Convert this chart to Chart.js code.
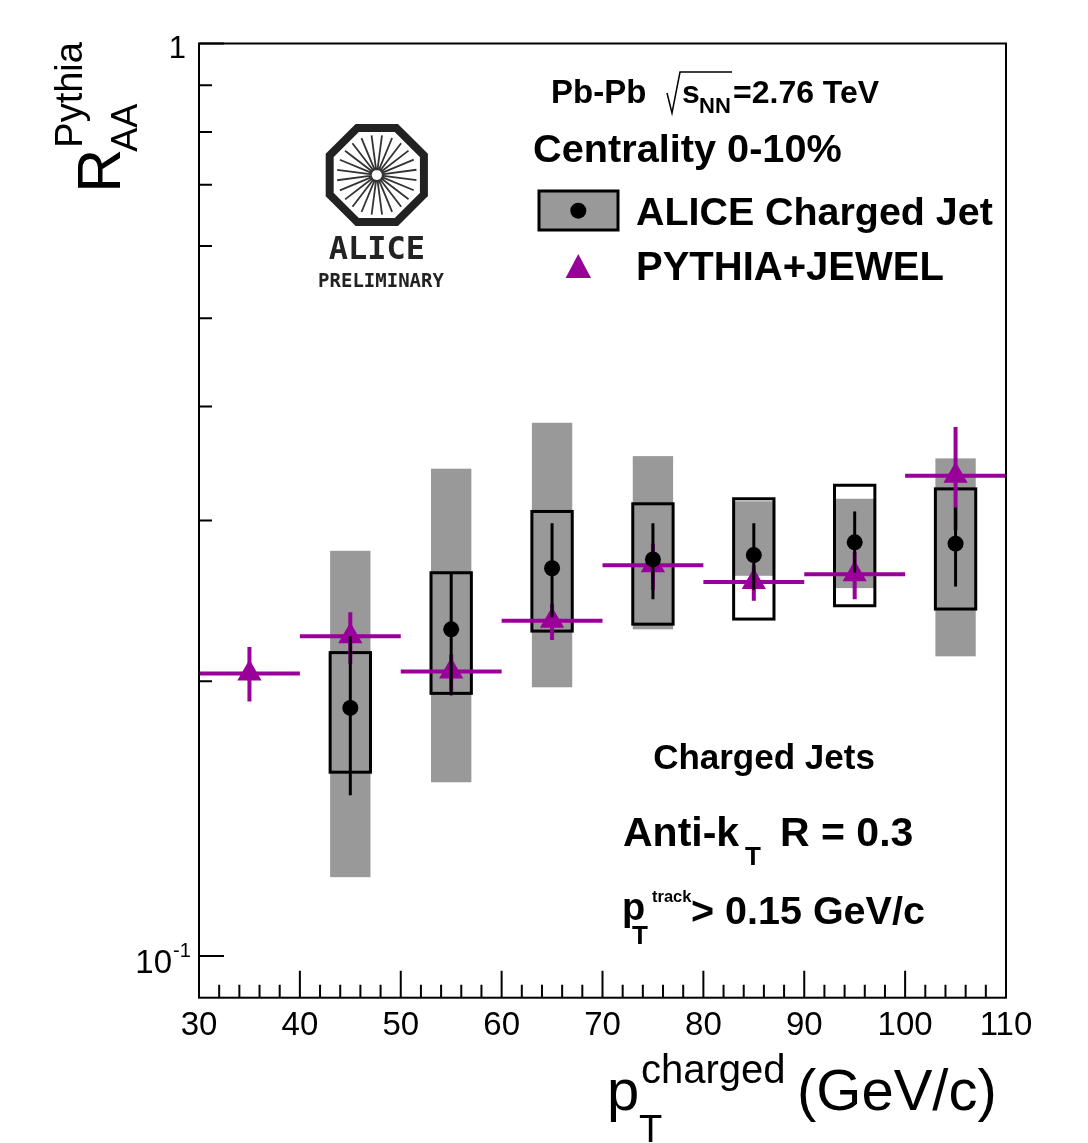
<!DOCTYPE html>
<html>
<head>
<meta charset="utf-8">
<script src="https://cdn.jsdelivr.net/npm/chart.js@4.4.1/dist/chart.umd.min.js"></script>
<style>
  html, body { margin: 0; padding: 0; background: #fff; }
  #raaChart { display: block; }
</style>
</head>
<body>
<canvas id="raaChart" width="1088" height="1143"></canvas>
<script>
// ALICE charged jet R_AA (bin centres in GeV/c)
const aliceX = [45, 55, 65, 75, 85, 95, 105];
const aliceY = [0.187, 0.228, 0.266, 0.272, 0.275, 0.284, 0.283];
const aliceStatLo = [0.150, 0.193, 0.235, 0.246, 0.252, 0.263, 0.254];
const aliceStatHi = [0.224, 0.263, 0.298, 0.298, 0.298, 0.307, 0.310];
// shape uncertainty (open boxes)
const aliceShapeLo = [0.159, 0.194, 0.227, 0.231, 0.234, 0.242, 0.240];
const aliceShapeHi = [0.215, 0.263, 0.307, 0.313, 0.317, 0.328, 0.325];
// correlated uncertainty (grey boxes)
const aliceCorrLo = [0.122, 0.155, 0.197, 0.228, 0.261, 0.253, 0.213];
const aliceCorrHi = [0.278, 0.342, 0.384, 0.353, 0.315, 0.317, 0.351];
const boxHalfWidth = 2;

// PYTHIA+JEWEL
const pythiaX = [35, 45, 55, 65, 75, 85, 95, 105];
const pythiaY = [0.204, 0.224, 0.205, 0.233, 0.268, 0.257, 0.262, 0.336];
const pythiaLo = [0.190, 0.209, 0.195, 0.222, 0.252, 0.245, 0.246, 0.293];
const pythiaHi = [0.218, 0.238, 0.214, 0.243, 0.283, 0.268, 0.277, 0.380];
const pythiaBinHalf = 5;

// axis ticks
const xMajorTicks = [30, 40, 50, 60, 70, 80, 90, 100, 110];
const xMinorTicks = [32, 34, 36, 38, 42, 44, 46, 48, 52, 54, 56, 58, 62, 64, 66, 68,
                     72, 74, 76, 78, 82, 84, 86, 88, 92, 94, 96, 98, 102, 104, 106, 108];
const yMajorTicks = [0.1, 1];
const yMinorTicks = [0.2, 0.3, 0.4, 0.5, 0.6, 0.7, 0.8, 0.9];

const PURPLE = '#990099';
const GREY = '#999999';
const FONT = '"Liberation Sans", Arial, Helvetica, sans-serif';

function txt(ctx, s, x, y, size, bold, align) {
    ctx.font = (bold ? 'bold ' : '') + size + 'px ' + FONT;
    ctx.textAlign = align || 'left';
    ctx.textBaseline = 'alphabetic';
    ctx.fillText(s, x, y);
    return ctx.measureText(s).width;
}

const rootStyle = {
    id: 'rootStyle',
    beforeDatasetsDraw(chart) {
        const ctx = chart.ctx;
        const xs = chart.scales.x, ys = chart.scales.y;
        ctx.save();
        // grey correlated boxes
        ctx.fillStyle = GREY;
        aliceX.forEach((x, i) => {
            const l = xs.getPixelForValue(x - boxHalfWidth), r = xs.getPixelForValue(x + boxHalfWidth);
            const t = ys.getPixelForValue(aliceCorrHi[i]), b = ys.getPixelForValue(aliceCorrLo[i]);
            ctx.fillRect(l, t, r - l, b - t);
        });
        // open shape boxes
        ctx.strokeStyle = '#000';
        ctx.lineWidth = 3;
        aliceX.forEach((x, i) => {
            const l = xs.getPixelForValue(x - boxHalfWidth), r = xs.getPixelForValue(x + boxHalfWidth);
            const t = ys.getPixelForValue(aliceShapeHi[i]), b = ys.getPixelForValue(aliceShapeLo[i]);
            ctx.strokeRect(l, t, r - l, b - t);
        });
        ctx.restore();
    },
    beforeDatasetDraw(chart, args) {
        const ctx = chart.ctx;
        const xs = chart.scales.x, ys = chart.scales.y;
        ctx.save();
        if (args.index === 1) {
            ctx.strokeStyle = PURPLE;
            ctx.lineWidth = 4;
            pythiaX.forEach((x, i) => {
                const px = xs.getPixelForValue(x), py = ys.getPixelForValue(pythiaY[i]);
                ctx.beginPath();
                ctx.moveTo(xs.getPixelForValue(x - pythiaBinHalf), py);
                ctx.lineTo(xs.getPixelForValue(x + pythiaBinHalf), py);
                ctx.moveTo(px, ys.getPixelForValue(pythiaHi[i]));
                ctx.lineTo(px, ys.getPixelForValue(pythiaLo[i]));
                ctx.stroke();
            });
        } else if (args.index === 0) {
            ctx.strokeStyle = '#000';
            ctx.lineWidth = 3;
            aliceX.forEach((x, i) => {
                const px = xs.getPixelForValue(x);
                ctx.beginPath();
                ctx.moveTo(px, ys.getPixelForValue(aliceStatHi[i]));
                ctx.lineTo(px, ys.getPixelForValue(aliceStatLo[i]));
                ctx.stroke();
            });
        }
        ctx.restore();
    },
    afterDraw(chart) {
        const ctx = chart.ctx;
        const xs = chart.scales.x, ys = chart.scales.y;
        const a = chart.chartArea;
        ctx.save();
        ctx.fillStyle = '#000';
        ctx.strokeStyle = '#000';

        // frame
        ctx.lineWidth = 2;
        ctx.strokeRect(a.left, a.top, a.right - a.left, a.bottom - a.top);

        // ticks (drawn inwards, ROOT style)
        ctx.beginPath();
        xMajorTicks.forEach(v => {
            const p = xs.getPixelForValue(v);
            ctx.moveTo(p, a.bottom); ctx.lineTo(p, a.bottom - 27);
        });
        xMinorTicks.forEach(v => {
            const p = xs.getPixelForValue(v);
            ctx.moveTo(p, a.bottom); ctx.lineTo(p, a.bottom - 13);
        });
        yMajorTicks.forEach(v => {
            const p = ys.getPixelForValue(v);
            ctx.moveTo(a.left, p); ctx.lineTo(a.left + 25, p);
        });
        yMinorTicks.forEach(v => {
            const p = ys.getPixelForValue(v);
            ctx.moveTo(a.left, p); ctx.lineTo(a.left + 13, p);
        });
        ctx.stroke();

        // y tick labels
        const y1 = ys.getPixelForValue(1), y01 = ys.getPixelForValue(0.1);
        txt(ctx, '1', 186, y1 + 14, 31, false, 'right');
        txt(ctx, '10', 172, y01 + 17, 33, false, 'right');
        txt(ctx, '-1', 173, y01 + 1, 20, false, 'left');

        // y axis title: R^{Pythia}_{AA}
        ctx.save();
        ctx.translate(120, 192.7);
        ctx.rotate(-Math.PI / 2);
        txt(ctx, 'R', 0, 0, 61, false);
        txt(ctx, 'AA', 41, 17, 36, false);
        txt(ctx, 'Pythia', 45, -38, 38, false);
        ctx.restore();

        // x axis title: p_T^{charged} (GeV/c)
        txt(ctx, 'p', 607, 1110, 58, false);
        txt(ctx, 'charged', 641, 1083, 40, false);
        txt(ctx, 'T', 639, 1142, 38, false);
        txt(ctx, '(GeV/c)', 797, 1110, 58, false);

        // header text
        txt(ctx, 'Pb-Pb', 551, 103, 33, true);
        ctx.lineWidth = 1.5;
        ctx.beginPath();
        ctx.moveTo(667, 93); ctx.lineTo(672, 113); ctx.lineTo(680, 72); ctx.lineTo(732, 72);
        ctx.stroke();
        txt(ctx, 's', 682, 103, 32, true);
        txt(ctx, 'NN', 699, 113, 22, true);
        txt(ctx, '=2.76 TeV', 733, 103, 32, true);
        txt(ctx, 'Centrality 0-10%', 533, 162, 39.7, true);

        // legend
        ctx.fillStyle = GREY;
        ctx.fillRect(539, 191, 79, 39);
        ctx.lineWidth = 3;
        ctx.strokeRect(539, 191, 79, 39);
        ctx.fillStyle = '#000';
        ctx.beginPath();
        ctx.arc(578.3, 210.7, 8, 0, Math.PI * 2);
        ctx.fill();
        txt(ctx, 'ALICE Charged Jet', 636, 225, 39.4, true);
        ctx.fillStyle = PURPLE;
        ctx.beginPath();
        ctx.moveTo(578.3, 254); ctx.lineTo(591, 278); ctx.lineTo(565.6, 278);
        ctx.closePath();
        ctx.fill();
        ctx.fillStyle = '#000';
        txt(ctx, 'PYTHIA+JEWEL', 636, 280, 40, true);

        // lower annotations
        txt(ctx, 'Charged Jets', 764, 769, 35, true, 'center');
        txt(ctx, 'Anti-k', 623, 846, 41, true);
        txt(ctx, 'T', 745, 865, 26, true);
        txt(ctx, 'R = 0.3', 780, 846, 41, true);
        txt(ctx, 'p', 622, 920, 38, true);
        txt(ctx, 'track', 652, 902, 16.5, true);
        txt(ctx, 'T', 632, 944, 26, true);
        txt(ctx, '> 0.15 GeV/c', 691, 924, 39.5, true);

        // ALICE preliminary logo
        const cx = 376.8, cy = 175;
        ctx.strokeStyle = '#222';
        ctx.lineWidth = 8;
        ctx.beginPath();
        for (let k = 0; k < 8; k++) {
            const ang = Math.PI / 8 + k * Math.PI / 4;
            const px = cx + 51 * Math.cos(ang), py = cy + 51 * Math.sin(ang);
            if (k === 0) ctx.moveTo(px, py); else ctx.lineTo(px, py);
        }
        ctx.closePath();
        ctx.stroke();
        ctx.strokeStyle = '#333';
        ctx.lineWidth = 1.8;
        ctx.beginPath();
        for (let k = 0; k < 24; k++) {
            const ang = k * Math.PI / 12 + 0.13;
            ctx.moveTo(cx + 5 * Math.cos(ang), cy + 5 * Math.sin(ang));
            ctx.lineTo(cx + 40 * Math.cos(ang), cy + 40 * Math.sin(ang));
        }
        ctx.stroke();
        ctx.fillStyle = '#222';
        ctx.font = 'bold 32px "DejaVu Sans Mono", monospace';
        ctx.textAlign = 'center';
        ctx.fillText('ALICE', cx, 259);
        ctx.font = 'bold 19px "DejaVu Sans Mono", monospace';
        ctx.fillText('PRELIMINARY', 381, 287);

        ctx.restore();
    }
};

new Chart(document.getElementById('raaChart'), {
    type: 'scatter',
    data: {
        datasets: [{
            label: 'ALICE Charged Jet',
            data: aliceX.map((x, i) => ({ x: x, y: aliceY[i] })),
            pointStyle: 'circle',
            pointRadius: 8,
            backgroundColor: '#000',
            borderWidth: 0
        }, {
            label: 'PYTHIA+JEWEL',
            data: pythiaX.map((x, i) => ({ x: x, y: pythiaY[i] })),
            pointStyle: 'triangle',
            pointRadius: 14,
            backgroundColor: PURPLE,
            borderWidth: 0
        }]
    },
    options: {
        responsive: false,
        animation: false,
        devicePixelRatio: 1,
        layout: { padding: { left: 0, right: 82, top: 43.5, bottom: 0 } },
        plugins: {
            legend: { display: false },
            tooltip: { enabled: false }
        },
        scales: {
            x: {
                type: 'linear',
                min: 30,
                max: 110,
                grid: { display: false, drawTicks: false },
                border: { display: false },
                afterBuildTicks: s => { s.ticks = xMajorTicks.map(v => ({ value: v })); },
                afterFit: s => { s.height = 1143 - 997.7; },
                ticks: {
                    color: '#000',
                    padding: 8,
                    maxRotation: 0,
                    font: { family: FONT, size: 33 }
                }
            },
            y: {
                type: 'logarithmic',
                min: 0.09,
                max: 1,
                grid: { display: false, drawTicks: false },
                border: { display: false },
                ticks: { display: false },
                afterFit: s => { s.width = 199; }
            }
        }
    },
    plugins: [rootStyle]
});
</script>
</body>
</html>
